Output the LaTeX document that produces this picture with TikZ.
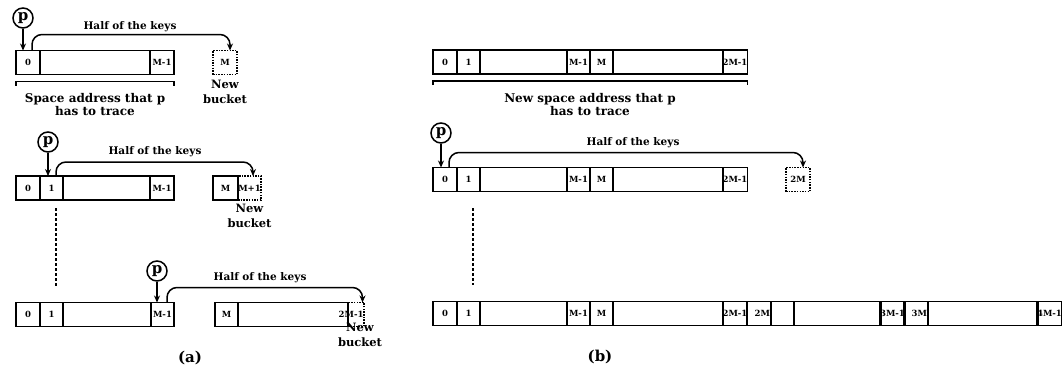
\documentclass[tikz,border=0pt]{standalone}
\usepackage{fontspec}
\setmainfont{DejaVu Serif}
\usetikzlibrary{arrows.meta,calc}

\tikzset{
  cell/.style={draw, line width=1.6pt, minimum height=24pt, inner sep=0pt, outer sep=0pt,
    font=\bfseries\fontsize{8.5}{9}\selectfont},
  newcell/.style={cell, line width=1.5pt, dash pattern=on 1.5pt off 1.2pt},
  pointer/.style={circle, draw, line width=1.5pt, minimum size=20pt, inner sep=0pt,
    font=\bfseries\fontsize{15}{15}\selectfont},
  ptr/.style={line width=1.5pt, -{Stealth[length=7pt,width=6pt]}},
  keys/.style={line width=1.5pt, rounded corners=10pt, -{Stealth[length=7pt,width=6pt]}},
  note/.style={font=\bfseries\fontsize{10.5}{12}\selectfont, inner sep=0pt},
  caption/.style={font=\bfseries\fontsize{12}{13.5}\selectfont, align=center, inner sep=0pt},
  bucket/.style={font=\bfseries\fontsize{11.5}{15}\selectfont, align=center, inner sep=0pt},
  bracket/.style={line width=1.5pt},
  gap/.style={line width=1.8pt, dash pattern=on 3pt off 2pt},
  panel/.style={font=\bfseries\fontsize{15}{17}\selectfont, inner sep=0pt}
}

% \cellbox[style]{name}{left x}{right x}{middle y}{label}
\newcommand\cellbox[6][cell]{%
  \node[#1, minimum width={#4-#3}] (#2) at ({(#3+#4)/2},#5) {#6};}

\begin{document}
\begin{tikzpicture}[x=1pt, y=-1pt]
\useasboundingbox (0,0) rectangle (1062,372);

% ---------------- (a) first split: p at bucket 0
\cellbox{a1c0}{16}{40}{62.5}{0}
\cellbox{a1mid}{40}{150}{62.5}{}
\cellbox{a1cm}{150}{174}{62.5}{M-1}
\cellbox[newcell]{a1nb}{213}{237}{62.5}{M}
\node[pointer] (a1p) at (23,18) {p};
\draw[ptr] (a1p) -- (a1p |- a1c0.north);
\draw[keys] ([xshift=16pt]a1c0.north west) -- ++(0,-16) -| ([xshift=5pt]a1nb.north);
\node[note] (a1h) at (130,27) {Half of the keys};
\draw[bracket] ([yshift=-11pt]a1c0.south west) -- ++(0,-4) -| ([yshift=-11pt]a1cm.south east);
\node[caption, anchor=north] (a1s) at (95,93) {Space address that p\\has to trace};
\node[bucket, anchor=north] (a1n) at (a1nb.south |- 0,80) {New\\bucket};

% ---------------- (a) second split: p at bucket 1
\cellbox{a2c0}{16}{40}{188}{0}
\cellbox{a2c1}{40}{63}{188}{1}
\cellbox{a2mid}{63}{150}{188}{}
\cellbox{a2cm}{150}{174}{188}{M-1}
\cellbox{a2m}{213}{238}{188}{M}
\cellbox[newcell]{a2nb}{238}{261}{188}{M+1}
\node[pointer] (a2p) at (48,142) {p};
\draw[ptr] (a2p) -- (a2p |- a2c0.north);
\draw[keys] ([xshift=16pt]a2c1.north west) -- ++(0,-14) -| ([xshift=3.5pt]a2nb.north);
\node[note] (a2h) at (155,152) {Half of the keys};
\node[bucket, anchor=north] (a2n) at (a2nb.south |- 0,204) {New\\bucket};

% ellipsis between the splits
\coordinate (a2g) at (56,208);
\coordinate (a3g) at (56,287);
\draw[gap] (a2g) -- (a3g);

% ---------------- (a) last split: p at bucket M-1
\cellbox{a3c0}{16}{40}{314.5}{0}
\cellbox{a3c1}{40}{63}{314.5}{1}
\cellbox{a3mid}{63}{151}{314.5}{}
\cellbox{a3cm}{151}{174}{314.5}{M-1}
\cellbox{a3m}{215}{238}{314.5}{M}
\cellbox{a3mid2}{238}{348}{314.5}{}
\cellbox[newcell]{a3nb}{348}{364}{314.5}{\makebox[15pt][r]{2M-1}}
\node[pointer] (a3p) at (157,271) {p};
\draw[ptr] (a3p) -- (a3p |- a3cm.north);
\draw[keys] ([xshift=16pt]a3cm.north west) -- ++(0,-15) -| ([xshift=6.5pt]a3nb.north);
\node[note] (a3h) at (260,278) {Half of the keys};
\node[bucket, anchor=north] (a3n) at ([xshift=4pt]a3nb.south |- 0,323) {New\\bucket};
\node[panel] (pa) at (190,358) {(a)};

% ---------------- (b) doubled address space
\cellbox{b1c0}{433}{457}{62}{0}
\cellbox{b1c1}{457}{480}{62}{1}
\cellbox{b1mid}{480}{567}{62}{}
\cellbox{b1cm}{567}{590}{62}{M-1}
\cellbox{b1m}{590}{613}{62}{M}
\cellbox{b1mid2}{613}{723}{62}{}
\cellbox{b1c2m}{723}{747}{62}{2M-1}
\draw[bracket] ([yshift=-11pt]b1c0.south west) -- ++(0,-4) -| ([yshift=-11pt]b1c2m.south east);
\node[caption, anchor=north] (b1s) at (590,93) {New space address that p\\has to trace};

% ---------------- (b) next round: p back at bucket 0
\cellbox{b2c0}{433}{457}{179.5}{0}
\cellbox{b2c1}{457}{480}{179.5}{1}
\cellbox{b2mid}{480}{567}{179.5}{}
\cellbox{b2cm}{567}{590}{179.5}{M-1}
\cellbox{b2m}{590}{613}{179.5}{M}
\cellbox{b2mid2}{613}{723}{179.5}{}
\cellbox{b2c2m}{723}{747}{179.5}{2M-1}
\cellbox[newcell]{b2nb}{786}{810}{179.5}{2M}
\node[pointer] (b2p) at (441,133) {p};
\draw[ptr] (b2p) -- (b2p |- b2c0.north);
\draw[keys] ([xshift=16pt]b2c0.north west) -- ++(0,-15) -| ([xshift=5pt]b2nb.north);
\node[note] (b2h) at (633,143) {Half of the keys};

\coordinate (b2g) at (473,208);
\coordinate (b3g) at (473,285);
\draw[gap] (b2g) -- (b3g);

% ---------------- (b) address space doubled again
\cellbox{b3c0}{433}{457}{313.5}{0}
\cellbox{b3c1}{457}{480}{313.5}{1}
\cellbox{b3mid}{480}{567}{313.5}{}
\cellbox{b3cm}{567}{590}{313.5}{M-1}
\cellbox{b3m}{590}{613}{313.5}{M}
\cellbox{b3mid2}{613}{723}{313.5}{}
\cellbox{b3c2m}{723}{747}{313.5}{2M-1}
\cellbox{b3c2}{747}{771}{313.5}{\makebox[22pt][r]{2M}}
\cellbox{b3e}{771}{794}{313.5}{}
\cellbox{b3mid3}{794}{881}{313.5}{}
\cellbox{b3c3m}{881}{904}{313.5}{3M-1}
\cellbox{b3c3}{904}{928}{313.5}{\makebox[22pt][r]{3M}}
\cellbox{b3mid4}{928}{1038}{313.5}{}
\cellbox{b3c4m}{1038}{1061}{313.5}{4M-1}
\node[panel] (pb) at (600,357) {(b)};
\end{tikzpicture}
\end{document}
